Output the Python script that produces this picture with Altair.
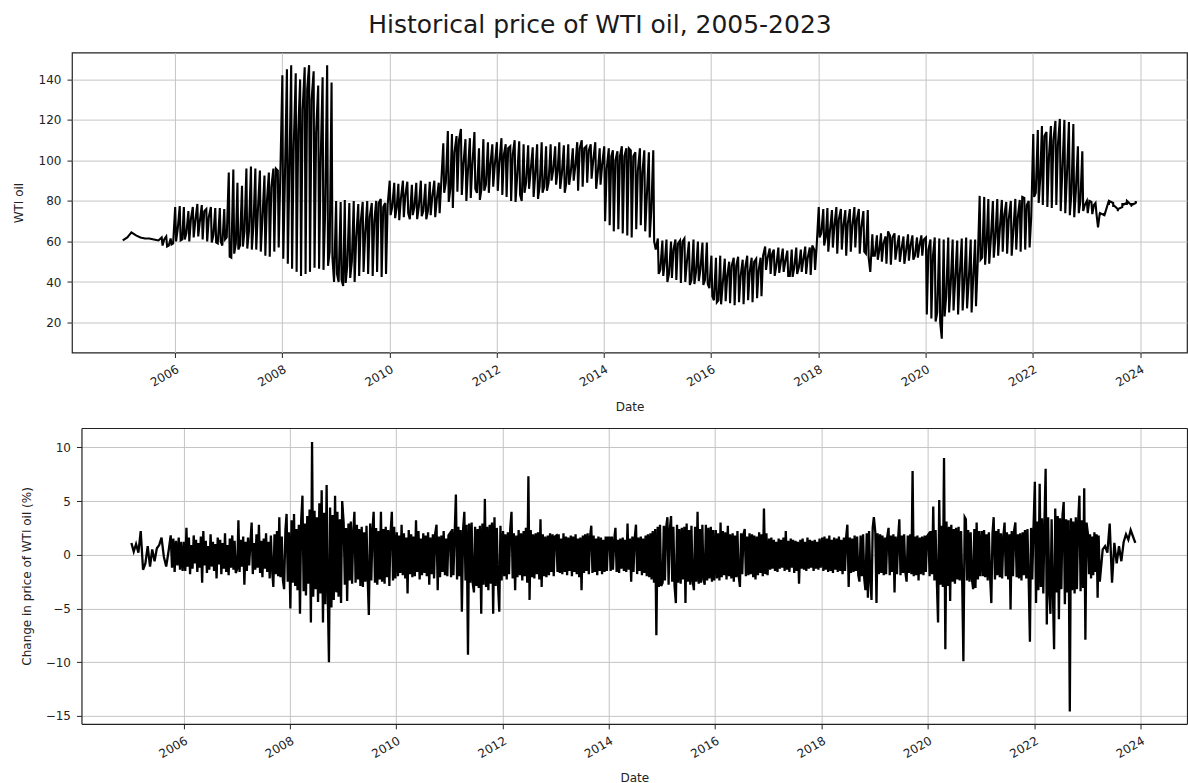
import altair as alt
import pandas as pd

TITLE = "Historical price of WTI oil, 2005-2023"
FONT = "DejaVu Sans"
INK = "#222222"

# ---------------------------------------------------------------------------
# WTI price (USD/bbl). Dates were parsed day/month-swapped for day <= 12,
# so the first twelve days of every month hold prices from across the year
# and show up as one tall stroke per month.
# tops_YYYY / lows_YYYY : highest / lowest price inside each month's stroke
# trend_YYYY            : price later in the month (days 13-31, parsed right)
# ---------------------------------------------------------------------------
wti_2005_jan_sep = [60.5, 62.0, 64.5, 63.0, 62.0, 61.5, 61.5, 61.0, 60.5]
tops_2005 = [62.0, 62.5, 61.5]          # Oct, Nov, Dec
lows_2005 = [58.0, 57.5, 58.5]
trend_2005 = [61.0, 58.0, 59.0]

tops_2006 = [77, 77.5, 77, 75, 77, 78.5, 78, 76, 77, 76.5, 76.5, 76]
lows_2006 = [60, 60.5, 61, 60, 62, 62.5, 61, 60, 59.5, 59.5, 60, 61]
trend_2006 = [66, 61, 64, 71, 70, 70, 75, 72, 63, 59, 58, 62]
tops_2007 = [94, 95.5, 89, 87.5, 96, 97, 96, 95, 92.5, 94, 96, 95]
lows_2007 = [52.5, 54, 56, 57.5, 56.5, 56, 56, 55, 53, 52.5, 55, 57]
trend_2007 = [52, 59, 58, 65, 65, 68, 75, 71, 80, 87, 96, 93]
tops_2008 = [142, 145, 147, 143, 140, 146, 147, 144, 137, 141, 147, 138.5]
lows_2008 = [51.5, 49, 46.5, 45, 43, 44, 45, 47, 46.5, 46, 48, 52]
trend_2008 = [90, 96, 106, 114, 125, 135, 130, 114, 100, 74, 55, 40]
tops_2009 = [80, 79.5, 80.5, 79, 80, 78.5, 79.5, 80, 79, 80, 81, 79]
lows_2009 = [44, 41, 39.5, 42, 40, 43, 45, 44, 43, 45, 42.5, 44]
trend_2009 = [40, 38, 48, 50, 62, 70, 64, 72, 70, 79, 77, 78]
tops_2010 = [90, 89, 88.5, 90, 89.5, 88, 89, 90, 88.5, 89.5, 90, 89]
lows_2010 = [73, 71.5, 70.5, 72, 74, 73, 71, 72.5, 71, 73, 72, 74]
trend_2010 = [77, 77, 81, 83, 71, 77, 77, 75, 75, 82, 81, 89]
tops_2011 = [108.5, 114.5, 113, 112, 115.5, 110.5, 111, 114, 106, 110.5, 109, 108]
lows_2011 = [84, 79.5, 76.5, 84.5, 83, 80, 81.5, 86, 80.5, 85, 84, 87]
trend_2011 = [89, 86, 104, 110, 98, 95, 98, 84, 86, 88, 98, 98]
tops_2012 = [109, 111, 108, 107, 110, 109.5, 108, 107.5, 106.5, 108, 109, 107]
lows_2012 = [85, 83, 82, 80, 79.5, 83, 84, 86, 82, 81, 84, 85]
trend_2012 = [99, 103, 106, 103, 92, 80, 89, 95, 93, 87, 87, 89]
tops_2013 = [108, 107, 109, 107.5, 108, 106, 109, 110, 107, 108, 109, 106]
lows_2013 = [90, 88, 86, 84, 88, 90, 85, 87, 89, 91, 86, 88]
trend_2013 = [95, 95, 93, 89, 94, 97, 106, 106, 105, 100, 94, 98]
tops_2014 = [107, 106, 105, 104.5, 107, 106, 105, 104, 106, 105, 104, 105]
lows_2014 = [70, 68, 65, 66, 64, 63, 62, 66, 68, 65, 62, 60]
trend_2014 = [96, 102, 100, 102, 102, 106, 102, 95, 94, 82, 76, 56]
tops_2015 = [61.5, 60.5, 61, 60, 61, 60.5, 61.5, 60, 61, 60, 59.5, 59.5]
lows_2015 = [44, 43, 40, 42, 41, 39.5, 40, 38.5, 39, 40.5, 38.5, 39]
trend_2015 = [46, 50, 44, 56, 59, 60, 50, 41, 45, 46, 41, 37]
tops_2016 = [53, 52, 53, 51.5, 50, 52, 52.5, 51, 53, 52, 51.5, 52]
lows_2016 = [33, 30, 29, 30.5, 29.5, 28.5, 30, 29, 31, 30, 32, 33]
trend_2016 = [31, 31, 39, 43, 48, 48, 43, 47, 45, 50, 46, 53]
tops_2017 = [57.5, 56.5, 56, 57, 56.5, 55.5, 56, 57, 56, 57.5, 57, 56]
lows_2017 = [46, 44, 43, 44.5, 45, 43, 42.5, 44, 45, 44, 43.5, 46]
trend_2017 = [52, 54, 48, 50, 50, 43, 47, 47, 51, 52, 58, 58]
tops_2018 = [77, 76, 76.5, 75.5, 77, 76, 75.5, 76, 77, 76, 75, 75.5]
lows_2018 = [62, 58, 55, 57, 54, 56, 53, 55, 57, 54, 55, 52]
trend_2018 = [64, 62, 65, 68, 71, 68, 69, 68, 71, 67, 54, 45]
tops_2019 = [63.5, 63, 64, 62.5, 63, 64, 63, 62.5, 63.5, 63, 62, 63]
lows_2019 = [53, 51, 50, 49, 48.5, 51, 50, 49, 50.5, 51, 52, 53]
trend_2019 = [53, 56, 59, 65, 62, 57, 56, 55, 58, 53, 58, 61]
tops_2020 = [62, 61, 62, 61.5, 61, 62, 61, 60.5, 61.5, 62, 61, 61]
lows_2020 = [24, 22, 20.5, 20, 23, 25, 26, 24, 26, 27, 25, 28]
trend_2020 = [56, 53, 25, 12, 33, 39, 41, 43, 40, 40, 42, 48]
tops_2021 = [82.5, 82, 81, 80, 81, 80.5, 79.5, 80, 81, 80.5, 81.5, 80]
lows_2021 = [51, 48.5, 49, 52, 53, 55, 54, 53, 56, 55, 56, 57]
trend_2021 = [52, 60, 61, 62, 66, 73, 71, 65, 72, 82, 78, 72]
tops_2022 = [113, 115, 117, 114, 117, 119.5, 120.5, 120, 119, 118, 107, 104.5]
lows_2022 = [82, 79, 78, 77, 76.5, 78, 75, 74, 73, 72, 74, 75]
trend_2022 = [84, 92, 112, 102, 110, 108, 95, 92, 84, 85, 80, 78]

tops_2023 = [80, 79.5, 79]              # Jan, Feb, Mar
lows_2023 = [74, 73.5, 74]
trend_2023 = [80, 78, 67]
# Apr-Dec 2023: days 1-3 of each month (Jan/Feb/Mar prices)
tail_2023 = [74, 73, 74, 73, 74, 73, 80, 78, 80, 79, 77, 78, 76, 75, 76,
             77, 79, 78, 79, 78, 80, 78, 79, 78, 79, 80, 79]

# ---------------------------------------------------------------------------
# Daily change in price (%), listed in plotted order per period
# ---------------------------------------------------------------------------
chg_2005_sparse = [1.1, 0.3, 1.0, 0.2, 2.2, -1.4, -0.8, 0.8, -1.1, 0.5, -0.6,
                   0.6, 0.9, 1.6, -0.2, -1.1, 0.3]
chg_2005_q4 = [1.8, -1.2, 1.5, -1.6, 1.3, -1.0, 1.6, -1.4, 1.2, -1.5]
chg_2006 = [1.2, -1.5, 2.5, -1.1, 1.6, -1.8, 0.9, -1.3, 1.8, -0.8, 1.4, -1.6,
            1.1, -1.2, 1.7, -2.6, 2.2, -1.0, 1.3, -1.7, 0.8, -1.4, 1.9, -1.1,
            1.2, -1.5, 1.0, -2.2, 1.6, -0.9, 1.4, -1.8, 1.1, -1.3, 2.0, -1.6,
            0.9, -1.9, 1.5, -1.2, 1.8, -1.4, 1.3, -1.7]
chg_2007 = [-1.3, 3.2, -1.6, 1.4, -1.1, 1.7, -2.8, 1.2, -1.5, 1.6, -1.0, 1.3,
            3.0, -1.8, 1.1, -1.4, 1.9, -1.2, 2.8, -1.7, 1.3, -2.1, 1.5, -1.3,
            2.0, -1.6, 1.2, -2.2, 1.8, -1.5, -3.0, 1.9, -1.8, 2.2, -2.0, 3.5,
            -2.1, 1.7, -2.4, -3.2, 2.3, 3.8, -2.5, 2.1]
chg_2008 = [-5.0, 3.2, -2.6, 3.8, -2.9, 2.4, -3.3, 2.8, -5.5, 3.1, 5.5, -3.4,
            2.9, -3.8, 3.6, -2.7, 4.2, -6.3, 10.5, -3.9, 4.1, -3.2, 3.5, -4.4,
            4.8, -3.6, 6.0, -6.3, 3.9, -4.6, 6.5, -3.8, -10.0, 4.4, -4.9, 3.7,
            -4.2, 5.5, -3.5, 4.0, -3.9, 3.3, -4.5, 5.0]
chg_2009 = [3.0, -2.8, 2.5, -4.3, 2.9, -2.4, 3.1, -2.7, 2.2, 4.0, -2.6, 2.8,
            -2.3, 2.4, -2.9, 2.6, -3.0, 2.1, -2.5, 2.7, -2.2, -5.6, 2.9, -2.4,
            2.3, 4.0, -2.6, 2.5, -2.8, 2.2, -2.3, 4.0, -2.5, 2.4, -2.7, 2.6,
            -2.1, 2.3, -2.9, 2.0, 4.0, -2.4, 2.6, -2.2]
chg_2010 = [2.1, -2.0, 1.8, -1.7, 2.8, -1.9, 2.0, -2.2, 1.6, -3.6, 2.3, -1.8,
            1.9, -2.1, 1.7, -2.0, 3.2, -1.6, 2.2, -2.3, 1.5, -1.9, 2.0, -1.7,
            1.8, -2.0, 2.1, -2.8, 1.6, -1.8, 1.9, -2.2, 2.0, 2.8, -3.3, 1.7,
            -2.1, 1.8, -1.6, 2.2, -1.9, 1.5, -2.0, 1.8]
chg_2011 = [2.0, -2.1, 2.4, -1.9, 2.2, 5.6, -2.3, 2.6, -2.0, 2.3, -5.3, 2.5,
            4.0, -2.4, 2.8, -9.3, 2.9, -2.6, 3.0, -2.7, -3.5, 2.6, -2.9, 2.4,
            -3.1, 2.7, -5.5, 2.9, -2.8, 5.2, -3.0, 2.6, -3.3, 2.8, -2.7, 3.0,
            -5.5, 3.5, -2.9, 2.5, -3.0, -5.3, 2.7, -2.4]
chg_2012 = [2.2, -2.0, 1.9, -2.3, 2.1, -1.8, 2.4, 4.0, -2.2, 2.0, -3.3, 1.8,
            -2.1, 2.3, -1.9, 2.0, -2.4, 2.2, -2.0, 2.5, -2.6, 7.3, -4.2, 2.3,
            -2.1, 1.9, -2.2, 2.0, -1.8, 2.1, -2.3, 3.3, -3.0, 1.9, -2.0, 1.7,
            -2.1, 1.8, -1.9, 2.0, -1.6, 1.9, -2.0, 1.7]
chg_2013 = [1.8, -1.6, 1.9, -1.7, 1.5, -1.8, 2.0, -1.6, 1.7, -1.9, 1.6, -1.5,
            1.8, -2.0, 1.7, -1.6, 1.9, -1.8, 1.5, -2.1, 1.6, -3.3, 1.8, -1.7,
            1.9, -1.5, 2.0, -1.8, 1.6, 2.7, -1.7, 1.8, -1.6, 1.5, -1.9, 1.7,
            -1.5, 1.6, -1.8, 1.4, -1.6, 1.7, -1.5, 1.6]
chg_2014 = [1.6, -1.5, 1.7, -1.4, 1.5, 2.5, -1.6, 1.4, -1.7, 1.5, -1.3, 1.6,
            -1.5, 1.4, -1.6, 2.9, -1.4, 1.5, -2.5, 1.7, -1.6, 1.5, 2.8, -1.8,
            1.6, -1.5, 1.7, -1.9, 1.5, -1.7, 1.8, -2.0, 1.9, -2.1, 2.0, -2.3,
            2.2, -2.6, 2.4, -7.5, 2.6, -3.0, 2.8, -2.9]
chg_2015 = [-2.6, 2.7, -2.4, 2.5, 3.5, -2.8, 2.3, 3.6, -2.5, 2.6, -2.9, -4.5,
            2.8, -2.6, 2.4, -2.7, 2.5, -2.3, 2.6, -4.5, 2.9, -2.5, 2.3, -2.8,
            2.7, -2.4, -3.3, 2.6, -2.5, 4.0, -2.7, 2.4, -2.6, 2.8, -2.3, -2.8,
            2.8, -2.4, 2.5, -2.2, 2.6, -2.5, 2.3, -2.4]
chg_2016 = [2.3, -2.2, 2.0, -2.4, 3.0, -2.1, 2.2, -1.9, 2.1, -2.3, 2.7, -2.0,
            1.9, -2.2, 2.0, -2.5, 1.8, -2.1, 2.2, -1.9, -3.0, 2.0, -1.8, 1.9,
            2.4, -2.0, 1.7, -1.9, 2.0, -1.8, 1.9, -2.1, 1.8, -2.3, 1.7, -1.9,
            2.1, -1.7, 1.9, -2.0, 4.3, -1.8, 2.0, -1.9]
chg_2017 = [1.5, -1.4, 1.6, -1.3, 1.4, -1.5, 1.2, -1.6, 1.5, -1.3, 1.4, -1.2,
            1.6, -1.5, 2.2, -1.4, 1.3, -1.6, 1.5, -1.2, 1.4, -1.7, 1.3, -1.5,
            1.2, -2.7, 1.4, -1.3, 1.5, -1.4, 1.2, -1.5, 1.6, -1.3, 1.4, -1.2,
            1.3, -1.5, 1.4, -1.3, 1.2, -1.4, 1.5, -1.2]
chg_2018 = [1.6, -1.5, 1.7, -1.4, 1.5, -1.6, 1.8, -1.5, 1.4, -1.7, 1.6, -1.4,
            1.5, -1.6, 1.7, -1.5, 1.4, -1.8, 1.6, -1.5, 1.7, 2.8, -3.0, 1.6,
            -1.7, 1.5, -1.6, 1.8, -1.5, 1.7, -1.9, -2.5, 1.8, -2.0, 1.9, -2.2,
            -3.3, 2.0, -4.0, 2.2, -2.4, -4.2, 2.5, 3.5]
chg_2019 = [2.1, -4.5, 2.0, -1.8, 1.9, -1.7, 1.8, -1.9, 1.6, -1.8, 1.7, 2.5,
            -1.9, 1.8, -1.6, 1.9, -3.5, 1.7, -1.8, 1.6, 3.3, -1.9, 1.8, -1.7,
            1.9, -1.6, -2.5, 1.8, -1.7, 1.9, -1.8, 7.8, -2.0, 1.7, -1.9, 1.8,
            -2.4, 1.6, -1.8, 1.7, -1.9, 1.8, -1.6, 1.7]
chg_2020 = [1.9, -2.0, 2.2, -1.8, 4.5, -2.4, 2.3, -2.6, -6.3, 5.1, -2.8, 2.7,
            -3.0, 9.0, -8.8, 3.1, -2.9, 2.6, -4.3, 2.8, -2.5, 2.4, -2.7, 2.5,
            -2.3, 2.6, -2.4, 2.2, -2.6, -9.9, 3.5, 3.3, -2.4, 2.3, -2.5, 2.1,
            -2.2, -3.2, 2.4, -3.1, 3.0, -2.3, 2.2, -2.0]
chg_2021 = [2.2, -2.0, 2.3, -2.1, 1.9, -2.4, 2.1, -2.2, -4.5, 2.0, 3.5, -2.3,
            2.2, -1.9, 2.4, -2.1, 2.0, -2.2, 1.8, 3.0, -2.0, 2.1, -2.3, 1.9,
            -5.1, 2.2, -2.0, 2.3, 3.0, -2.1, 1.9, -2.2, 2.0, -2.4, 2.1, -1.9,
            2.3, -2.2, 2.4, -2.0, -8.1, 2.5, -2.3, 2.2]
chg_2022 = [6.8, -4.5, 3.1, -3.3, 6.6, -3.0, 3.4, -3.6, 3.2, 8.0, -6.5, 3.5,
            -3.4, -5.5, 3.3, -3.7, -8.8, 4.3, -3.5, 3.6, -6.0, 3.4, -3.2, 3.7,
            4.9, -4.6, 3.3, -3.5, 3.2, -14.6, 3.4, -3.3, 3.1, -3.6, 3.5, -3.2,
            3.0, 5.5, -3.4, 3.2, -3.1, 6.2, -7.9, 3.0]
chg_2023_q1 = [2.0, -1.8, 1.9, -2.2, 1.7, -1.9, 2.1, -1.6, 1.9, -4.0, 1.8, -2.5]
chg_2023_tail = [0.5, 0.8, 0.2, 2.9, -2.6, 1.1, -0.8, 0.8, -0.6, 1.2, 1.9,
                 1.4, 2.3, 1.7, 1.1]

# ---------------------------------------------------------------------------
# Price table, in parsed-date order
# ---------------------------------------------------------------------------
price_rows = [(pd.Timestamp(2005, m, 11), v)
              for m, v in zip(range(1, 10), wti_2005_jan_sep)]


def add_months(year, months, tops, lows, trend):
    for i, m in enumerate(months):
        price_rows.append((pd.Timestamp(year, m, 3), tops[i]))
        price_rows.append((pd.Timestamp(year, m, 9), lows[i]))
        price_rows.append((pd.Timestamp(year, m, 20), trend[i]))


add_months(2005, [10, 11, 12], tops_2005, lows_2005, trend_2005)
full_years = [
    (2006, tops_2006, lows_2006, trend_2006), (2007, tops_2007, lows_2007, trend_2007),
    (2008, tops_2008, lows_2008, trend_2008), (2009, tops_2009, lows_2009, trend_2009),
    (2010, tops_2010, lows_2010, trend_2010), (2011, tops_2011, lows_2011, trend_2011),
    (2012, tops_2012, lows_2012, trend_2012), (2013, tops_2013, lows_2013, trend_2013),
    (2014, tops_2014, lows_2014, trend_2014), (2015, tops_2015, lows_2015, trend_2015),
    (2016, tops_2016, lows_2016, trend_2016), (2017, tops_2017, lows_2017, trend_2017),
    (2018, tops_2018, lows_2018, trend_2018), (2019, tops_2019, lows_2019, trend_2019),
    (2020, tops_2020, lows_2020, trend_2020), (2021, tops_2021, lows_2021, trend_2021),
    (2022, tops_2022, lows_2022, trend_2022),
]
for yr, t, lo, tr in full_years:
    add_months(yr, list(range(1, 13)), t, lo, tr)
add_months(2023, [1, 2, 3], tops_2023, lows_2023, trend_2023)
for i, v in enumerate(tail_2023):
    price_rows.append((pd.Timestamp(2023, 4 + i // 3, 1 + i % 3), v))

price_df = pd.DataFrame(price_rows, columns=["date", "price"]).sort_values("date")
price_df["date"] = price_df["date"].dt.strftime("%Y-%m-%d")

# ---------------------------------------------------------------------------
# Change table: each period's readings spread across its dates
# ---------------------------------------------------------------------------
periods = [("2005-01-01", "2005-09-28", chg_2005_sparse),
           ("2005-10-01", "2005-12-31", chg_2005_q4)]
periods += [(f"{yr}-01-01", f"{yr}-12-31", vals) for yr, vals in [
    (2006, chg_2006), (2007, chg_2007), (2008, chg_2008), (2009, chg_2009),
    (2010, chg_2010), (2011, chg_2011), (2012, chg_2012), (2013, chg_2013),
    (2014, chg_2014), (2015, chg_2015), (2016, chg_2016), (2017, chg_2017),
    (2018, chg_2018), (2019, chg_2019), (2020, chg_2020), (2021, chg_2021),
    (2022, chg_2022)]]
periods += [("2023-01-01", "2023-03-31", chg_2023_q1),
            ("2023-04-08", "2023-12-05", chg_2023_tail)]

chg_rows = []
for start, end, vals in periods:
    s, e = pd.Timestamp(start), pd.Timestamp(end)
    n = len(vals)
    for i, v in enumerate(vals):
        chg_rows.append((s + (e - s) * (i + 0.5) / n, v))
chg_df = pd.DataFrame(chg_rows, columns=["date", "change"])
chg_df["date"] = chg_df["date"].dt.strftime("%Y-%m-%d")

# ---------------------------------------------------------------------------
# Chart
# ---------------------------------------------------------------------------
PANEL_W = 1115.5
INSET = 9.5            # the lower panel's frame starts this much further right
x_domain = [alt.DateTime(year=2004, month=1, date=31, utc=True),
            alt.DateTime(year=2024, month=11, date=15, utc=True)]
x_ticks = [alt.DateTime(year=y, month=1, date=1, utc=True)
           for y in range(2006, 2025, 2)]
date_axis = dict(values=x_ticks, format="%Y", labelAngle=-30,
                 labelAlign="right", labelBaseline="top",
                 labelPadding=6, titlePadding=13)
frame_axis = dict(labels=False, ticks=False, grid=False, domain=True,
                  domainColor=INK, domainWidth=1.2)

top = alt.Chart(price_df).mark_line(color="black", strokeWidth=2.1).encode(
    x=alt.X("date:T", title="Date",
            scale=alt.Scale(type="utc", domain=x_domain),
            axis=alt.Axis(**date_axis)),
    y=alt.Y("price:Q", title="WTI oil",
            scale=alt.Scale(domain=[5.2, 153.2], nice=False, zero=False),
            axis=alt.Axis(values=[20, 40, 60, 80, 100, 120, 140],
                          minExtent=40, maxExtent=40, titlePadding=6)),
).properties(width=PANEL_W, height=300)

change_x = alt.X("date:T", title="Date",
                 scale=alt.Scale(type="utc", domain=x_domain,
                                 range=[INSET, PANEL_W]),
                 axis=alt.Axis(domain=True, domainColor=INK, domainWidth=1.2,
                               **date_axis))
change_y = alt.Y("change:Q", title="Change in price of WTI oil (%)",
                 scale=alt.Scale(domain=[-15.74, 11.8], nice=False, zero=False),
                 axis=alt.Axis(values=[-15, -10, -5, 0, 5, 10], offset=-INSET,
                               minExtent=40, maxExtent=40, titlePadding=8,
                               domain=True, domainColor=INK, domainWidth=1.2))

change_line = alt.Chart(chg_df).mark_line(color="black", strokeWidth=2.3).encode(
    x=change_x, y=change_y)
# top and right edges of the lower frame
change_frame = alt.Chart(chg_df).mark_line(opacity=0).encode(
    x=alt.X("date:T", title=None, axis=alt.Axis(orient="top", **frame_axis)),
    y=alt.Y("change:Q", title=None, axis=alt.Axis(orient="right", **frame_axis)),
)
bottom = alt.layer(change_line, change_frame).resolve_axis(
    x="independent", y="independent"
).properties(width=PANEL_W, height=296,
             view=alt.ViewBackground(stroke="transparent"))

chart = alt.vconcat(top, bottom, spacing=13.5).properties(
    title=alt.TitleParams(TITLE, fontSize=25, font=FONT, fontWeight="normal",
                          color="#1a1a1a", anchor="middle", offset=14),
    padding={"left": 12, "top": 12.5, "right": 0, "bottom": 0},
).configure_view(
    stroke=INK, strokeWidth=1.2
).configure_axis(
    labelFont=FONT, titleFont=FONT, labelFontSize=12, titleFontSize=12,
    labelColor=INK, titleColor=INK, titleFontWeight="normal",
    tickColor=INK, tickSize=5, tickWidth=1, domain=False,
    gridColor="#c4c4c4", gridWidth=1, labelPadding=6,
)

chart.save("out.html", embed_options={"renderer": "svg", "actions": False})
